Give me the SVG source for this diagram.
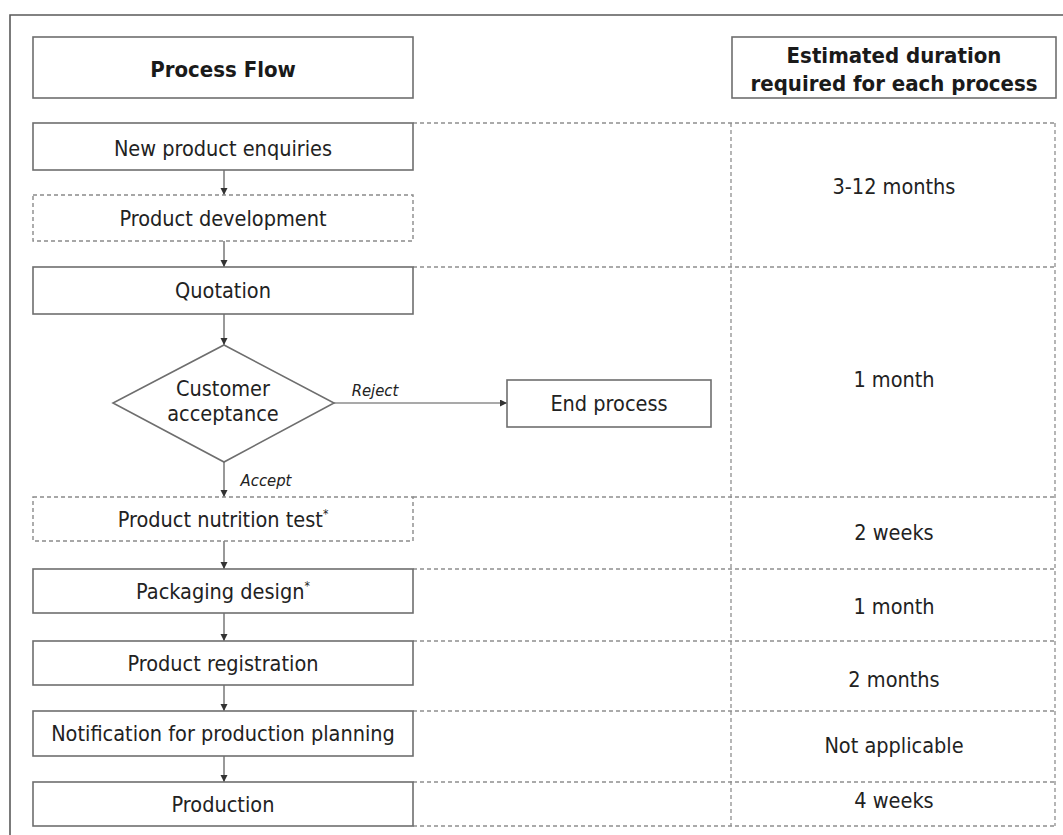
<svg xmlns="http://www.w3.org/2000/svg" width="1063" height="835" viewBox="0 0 1063 835">
  <style>
    .box { fill: #ffffff; stroke: #6e6e6e; stroke-width: 1.6; }
    .dbox { fill: #ffffff; stroke: #8a8a8a; stroke-width: 1.4; stroke-dasharray: 4 3; }
    .grid { fill: none; stroke: #8f8f8f; stroke-width: 1.3; stroke-dasharray: 4 3; }
    .conn { fill: none; stroke: #555555; stroke-width: 1.2; }
    .t { font-family: "DejaVu Sans Condensed", "DejaVu Sans", sans-serif; font-stretch: condensed; font-size: 21.5px; fill: #222222; text-anchor: middle; }
    .h { font-family: "DejaVu Sans Condensed", "DejaVu Sans", sans-serif; font-stretch: condensed; font-size: 22px; font-weight: bold; fill: #1a1a1a; text-anchor: middle; }
    .lbl { font-family: "DejaVu Sans Condensed", "DejaVu Sans", sans-serif; font-stretch: condensed; font-size: 16.5px; font-style: italic; fill: #222222; text-anchor: middle; }
    .sup { font-size: 12px; }
  </style>
  <defs>
    <marker id="arr" markerWidth="8" markerHeight="8" refX="7" refY="3.5" orient="auto" markerUnits="userSpaceOnUse">
      <path d="M0,0 L7,3.5 L0,7 z" fill="#333333"/>
    </marker>
  </defs>

  <rect width="1063" height="835" fill="#ffffff"/>
  <path d="M10,840 L10,15 L1070,15" fill="none" stroke="#5a5a5a" stroke-width="1.6"/>

  <g id="grid">
    <line class="grid" x1="413" y1="123" x2="1055" y2="123"/>
    <line class="grid" x1="413" y1="267" x2="1055" y2="267"/>
    <line class="grid" x1="413" y1="497" x2="1055" y2="497"/>
    <line class="grid" x1="413" y1="569" x2="1055" y2="569"/>
    <line class="grid" x1="413" y1="641" x2="1055" y2="641"/>
    <line class="grid" x1="413" y1="711" x2="1055" y2="711"/>
    <line class="grid" x1="413" y1="782" x2="1055" y2="782"/>
    <line class="grid" x1="413" y1="826" x2="1055" y2="826"/>
    <line class="grid" x1="731" y1="123" x2="731" y2="826"/>
    <line class="grid" x1="1055" y1="123" x2="1055" y2="826"/>
  </g>

  <g id="connectors">
    <line class="conn" x1="224" y1="170" x2="224" y2="195" marker-end="url(#arr)"/>
    <line class="conn" x1="224" y1="241" x2="224" y2="267" marker-end="url(#arr)"/>
    <line class="conn" x1="224" y1="314" x2="224" y2="345" marker-end="url(#arr)"/>
    <line class="conn" x1="224" y1="462" x2="224" y2="497" marker-end="url(#arr)"/>
    <line class="conn" x1="224" y1="541" x2="224" y2="569" marker-end="url(#arr)"/>
    <line class="conn" x1="224" y1="613" x2="224" y2="641" marker-end="url(#arr)"/>
    <line class="conn" x1="224" y1="685" x2="224" y2="711" marker-end="url(#arr)"/>
    <line class="conn" x1="224" y1="756" x2="224" y2="782" marker-end="url(#arr)"/>
    <line class="conn" x1="333" y1="403" x2="507" y2="403" marker-end="url(#arr)"/>
    <text class="lbl" x="375" y="396">Reject</text>
    <text class="lbl" x="266" y="486">Accept</text>
  </g>

  <g id="header-flow">
    <rect class="box" x="33" y="37" width="380" height="61"/>
    <text class="h" x="223" y="77">Process Flow</text>
  </g>
  <g id="header-duration">
    <rect class="box" x="732" y="37" width="324" height="61"/>
    <text class="h" x="894" y="63">Estimated duration</text>
    <text class="h" x="894" y="91">required for each process</text>
  </g>

  <g id="n-enquiries">
    <rect class="box" x="33" y="123" width="380" height="47"/>
    <text class="t" x="223" y="156">New product enquiries</text>
  </g>
  <g id="n-development">
    <rect class="dbox" x="33" y="195" width="380" height="46"/>
    <text class="t" x="223" y="226">Product development</text>
  </g>
  <g id="n-quotation">
    <rect class="box" x="33" y="267" width="380" height="47"/>
    <text class="t" x="223" y="298">Quotation</text>
  </g>
  <g id="n-acceptance">
    <polygon class="box" points="224,345 334,403 224,462 113,403"/>
    <text class="t" x="223" y="396">Customer</text>
    <text class="t" x="223" y="421">acceptance</text>
  </g>
  <g id="n-end">
    <rect class="box" x="507" y="380" width="204" height="47"/>
    <text class="t" x="609" y="411">End process</text>
  </g>
  <g id="n-nutrition">
    <rect class="dbox" x="33" y="497" width="380" height="44"/>
    <text class="t" x="223" y="527">Product nutrition test<tspan class="sup" dy="-9">*</tspan></text>
  </g>
  <g id="n-packaging">
    <rect class="box" x="33" y="569" width="380" height="44"/>
    <text class="t" x="223" y="599">Packaging design<tspan class="sup" dy="-9">*</tspan></text>
  </g>
  <g id="n-registration">
    <rect class="box" x="33" y="641" width="380" height="44"/>
    <text class="t" x="223" y="671">Product registration</text>
  </g>
  <g id="n-notification">
    <rect class="box" x="33" y="711" width="380" height="45"/>
    <text class="t" x="223" y="741">Notification for production planning</text>
  </g>
  <g id="n-production">
    <rect class="box" x="33" y="782" width="380" height="44"/>
    <text class="t" x="223" y="812">Production</text>
  </g>

  <g id="durations">
    <text class="t" x="894" y="194">3-12 months</text>
    <text class="t" x="894" y="387">1 month</text>
    <text class="t" x="894" y="540">2 weeks</text>
    <text class="t" x="894" y="614">1 month</text>
    <text class="t" x="894" y="687">2 months</text>
    <text class="t" x="894" y="753">Not applicable</text>
    <text class="t" x="894" y="808">4 weeks</text>
  </g>
</svg>
